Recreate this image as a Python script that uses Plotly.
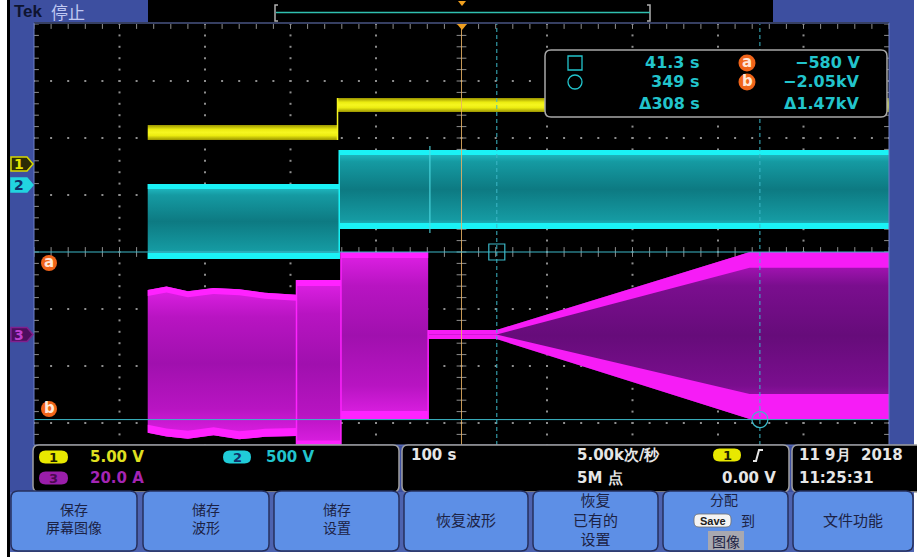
import numpy as np
import plotly.graph_objects as go

W, H = 917, 557
GX0, GX1, GY0, GY1 = 34, 889, 24, 480   # graticule (10 x 8 divisions)

# ---------------- scope settings ----------------
T_DIV = 100.0                      # s / div
SCALE = {1: 5.0, 2: 500.0, 3: 20.0}  # V/div, V/div, A/div
POS = {1: 1.561, 2: 1.16, 3: -1.447}  # channel position (div)

# ---------------- waveform envelopes ----------------
ch1_t = [-367, -145, -145, 500]
ch1_hi = [3.34, 3.34, 5.70, 5.70]
ch1_lo = [2.02, 2.02, 4.48, 4.48]

ch2_t = [-367, -143, -143, 500]
ch2_hi = [17, 17, 315, 315]
ch2_lo = [-641, -641, -378, -378]
ch2_glitch_t = [-37]
ch2_glitch_hi = [350]
ch2_glitch_lo = [-414]

ch3_t = [-367, -345, -320, -290, -260, -230, -193, -193, -141, -141, -39, -39, 41, 337, 500]
ch3_hi = [15.6, 16.8, 15.2, 16.3, 15.9, 14.6, 13.9, 19.1, 19.1, 28.9, 28.9, 1.6, 1.6, 28.9, 28.9]
ch3_lo = [-34.5, -35.8, -36.6, -35.4, -36.8, -35.9, -35.6, -40.0, -40.0, -29.7, -29.7, -1.6, -1.6, -29.7, -29.7]

cursor_t = [41.3, 349.0]
cursor_v = [-580.0, -2050.0]

readout_time = ["41.3 s", "349 s", "Δ308 s"]
readout_volt = ["−580 V", "−2.05kV", "Δ1.47kV"]
ch_labels = ["5.00 V", "500 V", "20.0 A"]
horiz_labels = ["100 s", "5.00k次/秒", "5M 点", "0.00 V"]
date_labels = ["11 9月  2018", "11:25:31"]
buttons = [["保存", "屏幕图像"], ["储存", "波形"], ["储存", "设置"], ["恢复波形"],
           ["恢复", "已有的", "设置"], ["分配", "SAVE到", "图像"], ["文件功能"]]

# ---------------- helpers ----------------
def PX(x):
    return (x - GX0) / (GX1 - GX0)

def PY(y):
    return (GY1 - y) / (GY1 - GY0)

PXDIV = (GY1 - GY0) / 8.0

def dv(vals, ch):
    return np.asarray(vals, float) / SCALE[ch] + POS[ch]

fig = go.Figure()
shapes = []
annots = []

def rect(x0, y0, x1, y1, fill, line=None, lw=0, layer='below'):
    shapes.append(dict(type='rect', xref='paper', yref='paper', x0=PX(x0), x1=PX(x1),
                       y0=PY(y1), y1=PY(y0), fillcolor=fill,
                       line=dict(color=line or fill, width=lw), layer=layer))

def rrect(x0, y0, x1, y1, r, fill, line=None, lw=0, layer='above'):
    p = (f"M{PX(x0+r)},{PY(y0)} L{PX(x1-r)},{PY(y0)} Q{PX(x1)},{PY(y0)} {PX(x1)},{PY(y0+r)} "
         f"L{PX(x1)},{PY(y1-r)} Q{PX(x1)},{PY(y1)} {PX(x1-r)},{PY(y1)} "
         f"L{PX(x0+r)},{PY(y1)} Q{PX(x0)},{PY(y1)} {PX(x0)},{PY(y1-r)} "
         f"L{PX(x0)},{PY(y0+r)} Q{PX(x0)},{PY(y0)} {PX(x0+r)},{PY(y0)} Z")
    shapes.append(dict(type='path', xref='paper', yref='paper', path=p, fillcolor=fill,
                       line=dict(color=line or fill, width=lw), layer=layer))

def poly(pts, fill, line=None, lw=0, layer='above', close=True):
    p = "M" + " L".join(f"{PX(x)},{PY(y)}" for x, y in pts) + (" Z" if close else "")
    shapes.append(dict(type='path', xref='paper', yref='paper', path=p,
                       fillcolor=fill if close else None,
                       line=dict(color=line or fill, width=lw), layer=layer))

def circ(cx, cy, r, fill, line=None, lw=0, layer='above'):
    shapes.append(dict(type='circle', xref='paper', yref='paper', x0=PX(cx-r), x1=PX(cx+r),
                       y0=PY(cy+r), y1=PY(cy-r), fillcolor=fill,
                       line=dict(color=line or fill, width=lw), layer=layer))

def txt(x, y, s, color, size, anchor='left', family='DejaVu Sans', weight='bold', bg=None):
    a = dict(x=PX(x), y=PY(y), xref='paper', yref='paper', text=s, showarrow=False,
             xanchor=anchor, yanchor='middle',
             font=dict(family=family, size=size, color=color, weight=weight))
    if bg:
        a['bgcolor'] = bg
        a['borderpad'] = 1
    annots.append(a)

CJK = 'Noto Sans CJK SC'

# ---------------- screen background ----------------
shapes.append(dict(type='rect', xref='paper', yref='paper', x0=PX(7), x1=PX(10), y0=PY(557), y1=PY(0),
                   fillcolor='black', line=dict(width=0), layer='below'))
rect(10, 0, 914, 552, '#3d4fa0')
rect(148, 0, 773, 22, '#000000')
rect(GX0, 22, GX1, 445, '#000000')

# ---------------- waveform drawing ----------------
def add_poly(t, up, dn, fill=None, grad=None):
    x = np.concatenate([t, t[::-1]])
    y = np.concatenate([up, dn[::-1]])
    kw = dict(x=x, y=y, mode='lines', fill='toself', line=dict(width=0),
              hoverinfo='skip', showlegend=False)
    if grad is not None:
        kw['fillgradient'] = dict(type='vertical', colorscale=grad)
        kw['fillcolor'] = grad[len(grad) // 2][1]
    else:
        kw['fillcolor'] = fill
    fig.add_trace(go.Scatter(**kw))

def draw_band(t, hi, lo, grad, edge=None, et=0, eb=0, ft=0.0, fb=0.0):
    t = np.asarray(t, float)
    cuts = [0] + [i + 1 for i in range(len(t) - 1) if t[i] == t[i + 1]] + [len(t)]
    for a, b in zip(cuts[:-1], cuts[1:]):
        ts, h, l = t[a:b], hi[a:b], lo[a:b]
        add_poly(ts, h, l, grad=grad)
        if edge:
            w = h - l
            e1 = np.minimum(et / PXDIV + ft * w, 0.5 * w)
            e2 = np.minimum(eb / PXDIV + fb * w, 0.5 * w)
            add_poly(ts, h, h - e1, fill=edge)
            add_poly(ts, l + e2, l, fill=edge)
    # step connectors
    for i in range(len(t) - 1):
        if t[i] == t[i + 1]:
            fig.add_trace(go.Scatter(x=[t[i], t[i]],
                                     y=[min(lo[i], lo[i + 1]), max(hi[i], hi[i + 1])],
                                     mode='lines', line=dict(color=edge or grad[2][1], width=1.5),
                                     hoverinfo='skip', showlegend=False))

# graticule dots / ticks
GRID = '#8e8e8e'
minor_y = np.round(np.arange(-4, 4.0001, 0.2), 3)
minor_t = np.arange(-500, 500.1, 20)
dx, dy = [], []
for tv in range(-400, 401, 100):
    if tv == 0:
        continue
    dx += [tv] * len(minor_y); dy += list(minor_y)
for yv in [-3, -2, -1, 1, 2, 3]:
    dx += list(minor_t); dy += [yv] * len(minor_t)
fig.add_trace(go.Scatter(x=dx, y=dy, mode='markers', hoverinfo='skip', showlegend=False,
                         marker=dict(symbol='square', size=2, color=GRID, line=dict(width=0))))
ew_x = [0] * len(minor_y) + [-500] * len(minor_y) + [500] * len(minor_y)
ew_y = list(minor_y) * 3
fig.add_trace(go.Scatter(x=ew_x, y=ew_y, mode='markers', hoverinfo='skip', showlegend=False,
                         marker=dict(symbol='line-ew', size=7, color=GRID, line=dict(width=1, color=GRID))))
ns_x = list(minor_t) * 2
ns_y = [0] * len(minor_t) + [4] * len(minor_t)
fig.add_trace(go.Scatter(x=ns_x, y=ns_y, mode='markers', hoverinfo='skip', showlegend=False,
                         marker=dict(symbol='line-ns', size=7, color=GRID, line=dict(width=1, color=GRID))))

# channel 1 (yellow)
draw_band(ch1_t, dv(ch1_hi, 1), dv(ch1_lo, 1),
          grad=[[0, '#9a9400'], [0.3, '#ecec10'], [0.5, '#f6f620'], [0.7, '#ecec10'], [1, '#9a9400']])
# channel 2 (cyan)
draw_band(ch2_t, dv(ch2_hi, 2), dv(ch2_lo, 2),
          grad=[[0, '#24c8d0'], [0.12, '#159aa2'], [0.5, '#0d7a82'], [0.85, '#159aa2'], [1, '#24c8d0']],
          edge='#1af2f6', et=5, eb=6)
fig.add_trace(go.Scatter(x=ch2_glitch_t * 2, y=[dv(ch2_glitch_hi, 2)[0], dv(ch2_glitch_lo, 2)[0]],
                         mode='lines', line=dict(color='rgba(80,220,228,0.7)', width=1.5),
                         hoverinfo='skip', showlegend=False))
# channel 3 (magenta)
t3 = np.asarray(ch3_t, float)
h3, l3 = dv(ch3_hi, 3), dv(ch3_lo, 3)
split = int(np.where(t3 == -39)[0][0])
draw_band(t3[:split + 1], h3[:split + 1], l3[:split + 1],
          grad=[[0, '#e020e6'], [0.2, '#b814c2'], [0.5, '#a010ae'], [0.8, '#b814c2'], [1, '#e020e6']],
          edge='#ff22ff', et=6, eb=8)
draw_band(t3[split + 1:], h3[split + 1:], l3[split + 1:],
          grad=[[0, '#c016cc'], [0.2, '#7a0e8e'], [0.5, '#660c7a'], [0.8, '#7a0e8e'], [1, '#c016cc']],
          edge='#f61cf6', et=4, eb=5, ft=0.07, fb=0.12)
fig.add_trace(go.Scatter(x=[-39, -39], y=[h3[split + 1], l3[split]], mode='lines',
                         line=dict(color='#ff22ff', width=1.5), hoverinfo='skip', showlegend=False))

# trigger position line
fig.add_trace(go.Scatter(x=[0, 0], y=[-4, 4], mode='lines', line=dict(color='rgba(232,178,100,0.85)', width=1),
                         hoverinfo='skip', showlegend=False))

# cursors
CUR = '#3cb8c8'
cy = [dv([v], 2)[0] for v in cursor_v]
for yv in cy:
    fig.add_trace(go.Scatter(x=[-500, 500], y=[yv, yv], mode='lines', line=dict(color=CUR, width=1),
                             hoverinfo='skip', showlegend=False))
for tv in cursor_t:
    fig.add_trace(go.Scatter(x=[tv, tv], y=[-4, 4], mode='lines',
                             line=dict(color=CUR, width=1, dash='4px,3px'),
                             hoverinfo='skip', showlegend=False))
fig.add_trace(go.Scatter(x=[cursor_t[0]], y=[cy[0]], mode='markers', hoverinfo='skip', showlegend=False,
                         marker=dict(symbol='square-open', size=16, color=CUR, line=dict(color=CUR, width=1.2))))
fig.add_trace(go.Scatter(x=[cursor_t[1]], y=[cy[1]], mode='markers', hoverinfo='skip', showlegend=False,
                         marker=dict(symbol='circle-open', size=16, color=CUR, line=dict(color=CUR, width=1.2))))

# ---------------- overlays ----------------
ORANGE = '#f0641a'
for (cx_, cy_, s) in [(49, 263, 'a'), (49, 409, 'b')]:
    circ(cx_, cy_, 8, ORANGE)
    txt(cx_, cy_ - 1, s, '#ffe6d8', 15, anchor='center')

# trigger markers
poly([(457, 24), (467, 24), (462, 30)], '#f0a020')
poly([(458, 1), (466, 1), (462, 6)], '#f0a020')

# record view bracket
poly([(278, 5), (275, 5), (275, 21), (278, 21)], None, line='#b0b0b0', lw=1.5, close=False)
poly([(647, 5), (650, 5), (650, 21), (647, 21)], None, line='#b0b0b0', lw=1.5, close=False)
poly([(276, 12.5), (650, 12.5)], None, line='#30c0b0', lw=1.5, close=False)

# graticule border
shapes.append(dict(type='rect', xref='paper', yref='paper', x0=PX(GX0), x1=PX(GX1), y0=PY(445), y1=PY(23),
                   line=dict(color='#6d7fc4', width=1), layer='above'))

# top-left label
txt(12, 11, 'Tek', '#0e1430', 17, family='Liberation Sans', weight='bold')
txt(49, 11, '停止', '#c0c8f2', 17, family=CJK, weight='normal')

# channel markers in sidebar
def chmark(yc, fill, line, tcol, s):
    poly([(11, yc - 7), (27, yc - 7), (33, yc), (27, yc + 7), (11, yc + 7)], fill, line=line, lw=1.5)
    txt(19, yc, s, tcol, 14, anchor='center')
chmark(164, '#2c2c06', '#d8d800', '#e6e600', '1')
chmark(185, '#22d4e0', '#22d4e0', '#10306a', '2')
chmark(334.5, '#4e0e5e', '#80208e', '#c040d0', '3')

# cursor readout box
rrect(545, 50, 887, 117, 6, '#000000', line='#a8a8a8', lw=1.5)
CY = '#22c4cc'
shapes.append(dict(type='rect', xref='paper', yref='paper', x0=PX(568), x1=PX(582), y0=PY(70), y1=PY(56),
                   line=dict(color=CY, width=1.3), layer='above'))
circ(575, 82, 7, 'rgba(0,0,0,0)', line=CY, lw=1.3)
rows = [63, 82, 103]
for yv, s in zip(rows, readout_time):
    txt(702, yv, s, CY, 16, anchor='right')
for yv, s in zip(rows[:2], ['a', 'b']):
    circ(747, yv, 8.5, ORANGE)
    txt(747, yv - 1, s, '#ffe6d8', 15, anchor='center')
for yv, s in zip(rows, readout_volt):
    txt(862, yv, s, CY, 16, anchor='right')

# bottom readout boxes
rrect(33, 445, 399, 492, 6, '#000000', line='#a0a0a0', lw=1.5)
rrect(402, 445, 789, 492, 6, '#000000', line='#a0a0a0', lw=1.5)
rrect(792, 445, 930, 492, 6, '#000000', line='#a0a0a0', lw=1.5)

def pill(x0, x1, yc, fill, s, tcol):
    rrect(x0, yc - 6.5, x1, yc + 6.5, 6.5, fill)
    txt((x0 + x1) / 2, yc, s, tcol, 13, anchor='center')

Y1C, Y2C = 457, 478
pill(39, 68, Y1C, '#e8e800', '1', '#202000')
txt(88, Y1C, ch_labels[0], '#e0e020', 15)
pill(223, 251, Y1C, '#20ccd8', '2', '#10306a')
txt(264, Y1C, ch_labels[1], '#22c4cc', 15)
pill(39, 68, Y2C, '#9a1eaa', '3', '#4a0a50')
txt(88, Y2C, ch_labels[2], '#a424b4', 15)

WH = '#e6e6e6'
txt(409, 455, horiz_labels[0], WH, 15)
txt(575, 455, horiz_labels[1], WH, 15)
txt(575, 478, horiz_labels[2], WH, 15)
pill(713, 741, 455, '#e8e800', '1', '#202000')
poly([(753, 461), (756, 461), (759, 450), (763, 450)], None, line=WH, lw=2, close=False)
txt(778, 478, horiz_labels[3], WH, 15, anchor='right')
txt(797, 455, date_labels[0], WH, 15)
txt(797, 478, date_labels[1], WH, 15)

# soft-key buttons
rect(10, 492, 914, 552, '#4d63b0', layer='above')
bx = [(10, 138), (142, 270), (273, 400), (403, 529), (532, 659), (662, 789), (792, 914)]
BT = '#1c2244'
for (x0, x1), lines in zip(bx, buttons):
    rrect(x0 + 1, 491, x1 - 1, 551, 7, '#5d8fe6', line='#26305e', lw=1.5)
    xc = (x0 + x1) / 2
    if len(lines) == 1:
        txt(xc, 519, lines[0], BT, 15, anchor='center', family=CJK, weight='normal')
    elif len(lines) == 2:
        txt(xc, 518, "<br>".join(lines), BT, 14, anchor='center', family=CJK, weight='normal')
    elif lines[0] != '分配':
        txt(xc, 518.5, "<br>".join(lines), BT, 15, anchor='center', family=CJK, weight='normal')
    else:
        txt(724, 499, lines[0], BT, 14, anchor='center', family=CJK, weight='normal')
        rrect(694, 514, 731, 527, 5, '#f4f4f4', line='#707070', lw=0.8)
        txt(712.5, 520.5, 'Save', '#202020', 11, anchor='center', family='Liberation Sans')
        txt(748, 520, lines[1][4:], BT, 14, anchor='center', family=CJK, weight='normal')
        rect(708, 531, 744, 550, '#a8a8b0', layer='above')
        txt(726, 540.5, lines[2], BT, 14, anchor='center', family=CJK, weight='normal')

fig.update_layout(
    width=W, height=H, margin=dict(l=GX0, r=W - GX1, t=GY0, b=H - GY1, pad=0),
    paper_bgcolor='white', plot_bgcolor='black', showlegend=False,
    xaxis=dict(range=[-5 * T_DIV, 5 * T_DIV], showgrid=False, zeroline=False, showticklabels=False,
               ticks='', fixedrange=True, showline=False),
    yaxis=dict(range=[-4, 4], showgrid=False, zeroline=False, showticklabels=False,
               ticks='', fixedrange=True, showline=False),
    shapes=shapes, annotations=annots,
)
fig.write_html("out.html", config={'displayModeBar': False},
               post_script="document.body.style.margin='0';document.body.style.padding='0';")
